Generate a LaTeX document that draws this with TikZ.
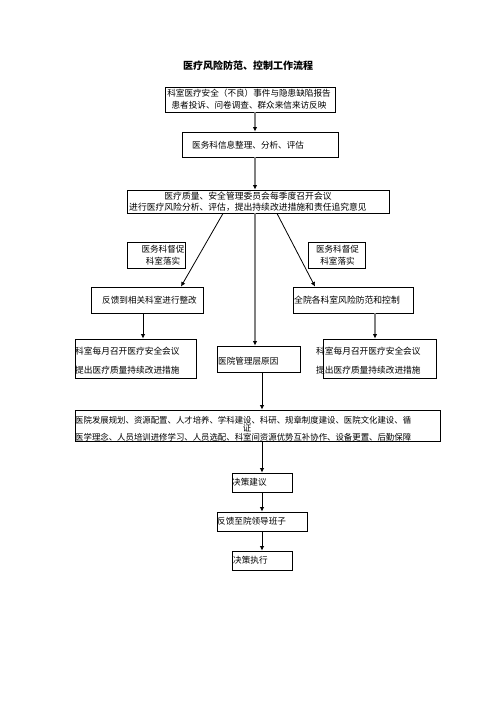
\documentclass[tikz,border=0pt]{standalone}
\usepackage{fontspec}
\newfontfamily\cjk{Noto Sans CJK SC}
\usetikzlibrary{arrows.meta}
\begin{document}
\begin{tikzpicture}[x=1pt,y=-1pt,
  box/.style={draw=black, line width=0.9pt, inner sep=0pt},
  txt/.style={inner sep=0pt, font=\cjk\fontsize{8.6}{12}\selectfont},
  ga/.style={draw=black!50, line width=2pt, -{Latex[color=black,length=4.5pt,width=4.5pt]}},
  ba/.style={draw=black, line width=0.8pt, -{Latex[length=4.5pt,width=4.5pt]}}
  ]
\useasboundingbox[fill=white] (0,0) rectangle (496,702);

% title
\node[inner sep=0pt, font=\cjk\bfseries\fontsize{10}{12}\selectfont] (title) at (248,66) {医疗风险防范、控制工作流程};

% box 1
\node[box, minimum width=170pt, minimum height=25pt] (b1) at (250,99.5) {};
\node[txt, align=center] (t1) at (249,99) {科室医疗安全（不良）事件与隐患缺陷报告\\患者投诉、问卷调查、群众来信来访反映};

% box 2
\node[box, minimum width=156pt, minimum height=25pt] (b2) at (260,144.5) {};
\node[txt, anchor=west] (t2) at (192,145) {医务科信息整理、分析、评估};

% box 3
\node[box, minimum width=262pt, minimum height=23pt] (b3) at (258,201.5) {};
\node[txt, align=center, font=\cjk\fontsize{8.8}{11}\selectfont] (t3) at (248,201.5) {医疗质量、安全管理委员会每季度召开会议\\进行医疗风险分析、评估，提出持续改进措施和责任追究意见};

% small boxes
\node[box, minimum width=58pt, minimum height=26pt] (sl) at (156,255) {};
\node[txt, align=center] (tsl) at (163,255) {医务科督促\\科室落实};
\node[box, minimum width=57pt, minimum height=26pt] (sr) at (336.5,255) {};
\node[txt, align=center] (tsr) at (337.5,255) {医务科督促\\科室落实};

% level 4
\node[box, minimum width=112pt, minimum height=26pt] (fl) at (147,300) {};
\node[txt, anchor=west] (tfl) at (102,300) {反馈到相关科室进行整改};
\node[box, minimum width=120pt, minimum height=26pt] (fr) at (353,300) {};
\node[txt, anchor=west, font=\cjk\fontsize{8.8}{12}\selectfont] (tfr) at (294,300) {全院各科室风险防范和控制};

% level 5
\node[box, minimum width=121pt, minimum height=39pt] (ml) at (135.5,358.5) {};
\node[txt, anchor=west, align=left, font=\cjk\fontsize{8.7}{19}\selectfont] (tml) at (75,360.5) {科室每月召开医疗安全会议\\提出医疗质量持续改进措施};
\node[box, minimum width=83pt, minimum height=26pt] (mm) at (258.5,359) {};
\node[txt, anchor=west] (tmm) at (218,361) {医院管理层原因};
\node[box, minimum width=113pt, minimum height=39pt] (mr) at (379.5,358.5) {};
\node[txt, anchor=west, align=left, font=\cjk\fontsize{8.7}{19}\selectfont] (tmr) at (316,360.5) {科室每月召开医疗安全会议\\提出医疗质量持续改进措施};

% big box
\node[box, minimum width=365pt, minimum height=31pt] (bb) at (257.5,425.5) {};
\node[txt, anchor=west, font=\cjk\fontsize{8.4}{8.5}\selectfont] (tbb1) at (75,420) {医院发展规划、资源配置、人才培养、学科建设、科研、规章制度建设、医院文化建设、循};
\node[txt, font=\cjk\fontsize{8.4}{8.5}\selectfont] (tbb2) at (247,428) {证};
\node[txt, anchor=west, font=\cjk\fontsize{8.4}{8.5}\selectfont] (tbb3) at (75,437) {医学理念、人员培训进修学习、人员选配、科室间资源优势互补协作、设备更置、后勤保障};

% bottom chain
\node[box, minimum width=60pt, minimum height=19pt] (d1) at (262,482.5) {};
\node[txt, anchor=west] (td1) at (232,482.5) {决策建议};
\node[box, minimum width=90pt, minimum height=19pt] (d2) at (262,521.5) {};
\node[txt, anchor=west] (td2) at (217,521.5) {反馈至院领导班子};
\node[box, minimum width=60pt, minimum height=19pt] (d3) at (262,560.5) {};
\node[txt, anchor=west] (td3) at (233,560.5) {决策执行};

% connectors
\draw[ga] (b1.south -| 255,0) -- (b2.north -| 255,0);
\draw[ga] (b2.south -| 255,0) -- (b3.north -| 255,0);
\draw[ba] (b3.south -| 223,0) -- (fl.north -| 181,0);
\draw[ba] (b3.south -| 277,0) -- (fr.north -| 315,0);
\draw[ga] (b3.south -| 255,0) -- (mm.north -| 255,0);
\draw[ba] (fl.south -| 143,0) -- (ml.north -| 143,0);
\draw[ga] (fr.south -| 375,0) -- (mr.north -| 375,0);
\draw[ba] (mm.south -| 262,0) -- (bb.north -| 262,0);
\draw[ba] (bb.south -| 262,0) -- (d1.north);
\draw[ba] (d1.south) -- (d2.north);
\draw[ba] (d2.south) -- (d3.north);
\end{tikzpicture}
\end{document}
